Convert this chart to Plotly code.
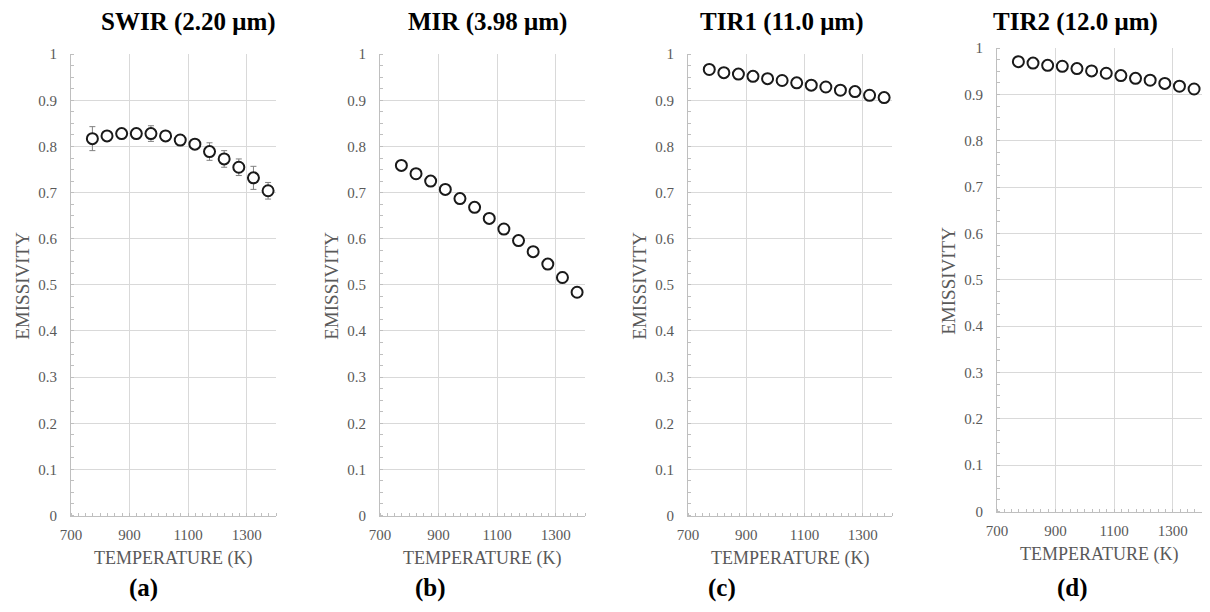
import plotly.graph_objects as go

# ---------------- data ----------------
temperature = [773, 823, 873, 923, 973, 1023, 1073, 1123, 1173, 1223, 1273, 1323, 1373]

swir = [0.817, 0.823, 0.828, 0.828, 0.828, 0.823, 0.814, 0.805, 0.789, 0.773, 0.755, 0.732, 0.704]
swir_err = [0.026, 0.010, 0.008, 0.008, 0.017, 0.010, 0.008, 0.008, 0.019, 0.018, 0.018, 0.025, 0.018]

mir = [0.759, 0.741, 0.725, 0.707, 0.687, 0.668, 0.644, 0.621, 0.596, 0.572, 0.545, 0.516, 0.484]
mir_err = [0.003, 0.003, 0.003, 0.003, 0.003, 0.003, 0.004, 0.004, 0.010, 0.004, 0.004, 0.012, 0.004]

tir1 = [0.967, 0.960, 0.957, 0.952, 0.947, 0.943, 0.938, 0.933, 0.929, 0.922, 0.919, 0.911, 0.906]
tir1_err = [0.002] * 13

tir2 = [0.971, 0.968, 0.963, 0.961, 0.956, 0.951, 0.946, 0.941, 0.935, 0.931, 0.924, 0.918, 0.912]
tir2_err = [0.002] * 13

panel_titles = ["SWIR (2.20 \u03bcm)", "MIR (3.98 \u03bcm)", "TIR1 (11.0 \u03bcm)", "TIR2 (12.0 \u03bcm)"]
panel_letters = ["(a)", "(b)", "(c)", "(d)"]
x_ticks = [700, 900, 1100, 1300]
y_ticks = [0, 0.1, 0.2, 0.3, 0.4, 0.5, 0.6, 0.7, 0.8, 0.9, 1]
x_title = "TEMPERATURE (K)"
y_title = "EMISSIVITY"

series = [(swir, swir_err), (mir, mir_err), (tir1, tir1_err), (tir2, tir2_err)]

# ---------------- layout geometry (screen pixels) ----------------
W, H = 1210, 612
OFF = 8  # page body margin of the browser
px_x = [(71, 276), (380, 585), (688, 892), (997, 1202)]
px_y = [(54, 515.5), (54, 515.5), (54, 515.5), (48, 511.5)]
title_cx = [188, 487, 781, 1075]
letter_cx = [143, 430, 722, 1072]


def fx(px):
    return (px - OFF) / W


def fy(py):
    return (H - (py - OFF)) / H


FONT = "Times New Roman, Liberation Serif, serif"
GRAY = "#595959"

fig = go.Figure()
annotations = []

for i, ((vals, errs), (x0, x1), (y0, y1)) in enumerate(zip(series, px_x, px_y)):
    n = "" if i == 0 else str(i + 1)
    fig.add_trace(go.Scatter(
        x=temperature, y=vals, mode="markers",
        xaxis="x" + n, yaxis="y" + n,
        marker=dict(symbol="circle", size=11, color="white",
                    line=dict(width=2, color="#1a1a1a")),
        error_y=dict(type="data", array=errs, visible=True, color="#808080",
                     thickness=1, width=3),
        showlegend=False,
    ))
    common_grid = dict(showgrid=True, gridcolor="#d9d9d9", gridwidth=1,
                       showline=True, linecolor="#bfbfbf", linewidth=1,
                       tickfont=dict(family=FONT, size=15, color=GRAY),
                       zeroline=False, fixedrange=True, automargin=False)
    fig.layout["xaxis" + n] = dict(
        domain=[fx(x0), fx(x1)], anchor="y" + n, range=[700, 1400],
        tickmode="array", tickvals=x_ticks, ticks="", ticklabelstandoff=5,
        minor=dict(dtick=25, tick0=700, ticks="inside", ticklen=3,
                   tickcolor="#bfbfbf", showgrid=False),
        **common_grid)
    fig.layout["yaxis" + n] = dict(
        domain=[fy(y1), fy(y0)], anchor="x" + n, range=[0, 1.0005],
        tickmode="array", tickvals=y_ticks, ticks="", ticklabelstandoff=10,
        minor=dict(dtick=0.025, tick0=0, ticks="inside", ticklen=3,
                   tickcolor="#bfbfbf", showgrid=False),
        **common_grid)

    # panel title
    annotations.append(dict(text="<b>" + panel_titles[i] + "</b>", x=fx(title_cx[i]), y=fy(22),
                            xref="paper", yref="paper", showarrow=False,
                            xanchor="center", yanchor="middle",
                            font=dict(family=FONT, size=25, color="black")))
    # panel letter
    annotations.append(dict(text="<b>" + panel_letters[i] + "</b>", x=fx(letter_cx[i]), y=fy(588),
                            xref="paper", yref="paper", showarrow=False,
                            xanchor="center", yanchor="middle",
                            font=dict(family=FONT, size=25, color="black")))
    # x axis title
    annotations.append(dict(text=x_title, x=fx((x0 + x1) / 2), y=fy(y1 + 43),
                            xref="paper", yref="paper", showarrow=False,
                            xanchor="center", yanchor="middle",
                            font=dict(family=FONT, size=18, color=GRAY)))
    # y axis title
    annotations.append(dict(text=y_title, x=fx(x0 - 48), y=fy((y0 + y1) / 2 + 1),
                            xref="paper", yref="paper", showarrow=False, textangle=-90,
                            xanchor="center", yanchor="middle",
                            font=dict(family=FONT, size=19, color=GRAY)))

fig.update_layout(
    template="none",
    width=W, height=H,
    margin=dict(l=0, r=0, t=0, b=0, autoexpand=False),
    paper_bgcolor="white", plot_bgcolor="white",
    font=dict(family=FONT, color=GRAY),
    annotations=annotations,
)

fig.write_html("out.html")
